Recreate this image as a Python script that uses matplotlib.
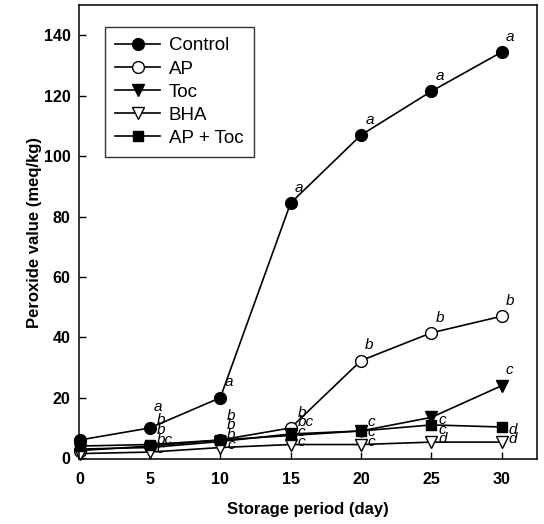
import numpy as np
import matplotlib
matplotlib.use("Agg")
import matplotlib.pyplot as plt

plt.rcParams['font.family'] = ['Liberation Sans', 'DejaVu Sans']

# storage days and peroxide values (meq/kg)
days = [0, 5, 10, 15, 20, 25, 30]
control = [6, 10, 20, 84.5, 107, 121.5, 134.5]
ap = [2.5, 4, 6, 10, 32.3, 41.5, 47]
toc = [3, 3.5, 5.5, 8, 9, 13.5, 24]
bha = [1.5, 2, 3.5, 4.5, 4.5, 5.3, 5.3]
ap_toc = [4, 4.5, 6, 7.5, 9, 11, 10.3]

# significance letters (day 0 has none)
let_control = ['', 'a', 'a', 'a', 'a', 'a', 'a']
let_ap = ['', 'b', 'b', 'b', 'b', 'b', 'b']
let_toc = ['', 'bc', 'b', 'bc', 'c', 'c', 'c']
let_bha = ['', 'c', 'c', 'c', 'c', 'd', 'd']
let_aptoc = ['', 'b', 'b', 'c', 'c', 'c', 'd']

fig = plt.figure(figsize=(5.44, 5.24), dpi=100)
ax = fig.add_axes([0.145, 0.124, 0.842, 0.866])

series = [
    ('Control', control, dict(marker='o', mfc='black'), let_control),
    ('AP', ap, dict(marker='o', mfc='white'), let_ap),
    ('Toc', toc, dict(marker='v', mfc='black'), let_toc),
    ('BHA', bha, dict(marker='v', mfc='white'), let_bha),
    ('AP + Toc', ap_toc, dict(marker='s', mfc='black', markersize=7.5), let_aptoc),
]

for name, vals, style, letters in series:
    kw = dict(color='black', mec='black', lw=1.2, markersize=8.5, mew=1.0, clip_on=False)
    kw.update(style)
    ax.plot(days, vals, label=name, **kw)

# letters: isolated points get a label above-right, low crowded points get stacked upward
lab_font = dict(fontsize=11, style='italic', ha='left', va='center')
for i, d in enumerate(days):
    crowd = []
    for name, vals, style, letters in series:
        t = letters[i]
        if not t:
            continue
        if name != 'Control' and vals[i] < 15:
            crowd.append((vals[i], t))
        else:
            dy = 15 if vals[i] < 15 else 11
            ax.annotate(t, (d, vals[i]), xytext=(3, dy), textcoords='offset points', **lab_font)
    crowd.sort(key=lambda p: p[0])
    if crowd:
        base = crowd[0][0]
        for k, (v, t) in enumerate(crowd):
            ax.annotate(t, (d, base), xytext=(5, 2 + 7 * k), textcoords='offset points', **lab_font)

ax.set_xlim(-0.05, 32.5)
ax.set_ylim(-0.3, 150)
ax.set_xticks(range(0, 31, 5))
ax.set_yticks(range(0, 141, 20))
for s in ax.spines.values():
    s.set_linewidth(1.1)
ax.tick_params(direction='in', length=5, width=1, labelsize=11.5)
ax.tick_params(axis='x', pad=9)
ax.tick_params(axis='y', pad=6)
for lab in ax.get_xticklabels() + ax.get_yticklabels():
    lab.set_fontweight('bold')

ax.set_xlabel('Storage period (day)', fontsize=12, fontweight='bold', labelpad=11)
ax.set_ylabel('Peroxide value (meq/kg)', fontsize=12, fontweight='bold', labelpad=1)

leg = ax.legend(loc='upper left', bbox_to_anchor=(0.057, 0.952), borderaxespad=0,
                fontsize=13.5, frameon=True, fancybox=False, edgecolor='black',
                handlelength=2.4, handletextpad=0.45, borderpad=0.55, labelspacing=0.32)
leg.get_frame().set_linewidth(1.0)

fig.savefig('out.png', dpi=100)
